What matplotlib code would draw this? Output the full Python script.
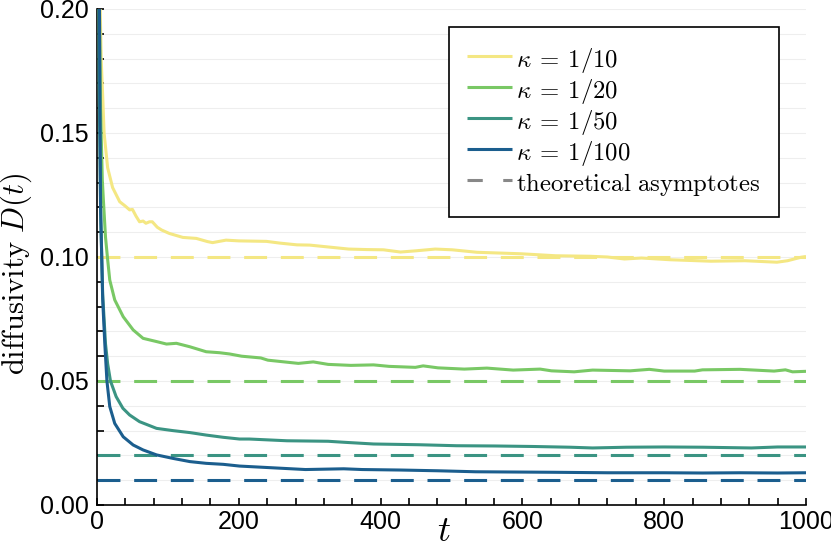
import matplotlib
matplotlib.use("Agg")
import matplotlib.pyplot as plt
from matplotlib.lines import Line2D
from matplotlib.ticker import MultipleLocator

plt.rcParams['mathtext.fontset'] = 'cm'
plt.rcParams['font.family'] = ['Liberation Sans', 'DejaVu Sans']

# ---- data ----
labels = [r'$\kappa\:=\:1/10$', r'$\kappa\:=\:1/20$', r'$\kappa\:=\:1/50$', r'$\kappa\:=\:1/100$']
colors = ['#f4e783', '#79c865', '#3b9483', '#1b5e8e']
asymptotes = [0.10, 0.05, 0.02, 0.01]

t_k10 = [1, 4.5, 6, 8, 10, 15, 22, 32, 40, 46, 50, 55, 60, 65, 69, 74, 78, 85, 91, 102, 121, 140,
         156, 163, 182, 200, 239, 258, 282, 300, 331, 355, 380, 404, 428, 450, 477, 501, 536, 598,
         647, 695, 720, 744, 768, 808, 866, 914, 959, 974, 993, 1000]
D_k10 = [0.40, 0.200, 0.179, 0.165, 0.150, 0.136, 0.128, 0.1223, 0.1205, 0.119, 0.1192, 0.1165,
         0.1142, 0.1145, 0.1136, 0.1142, 0.1142, 0.112, 0.1109, 0.1095, 0.1079, 0.1075, 0.1062,
         0.1058, 0.1068, 0.1065, 0.1063, 0.1056, 0.1049, 0.1048, 0.1039, 0.1032, 0.1030, 0.1029,
         0.1020, 0.1025, 0.1032, 0.1029, 0.1019, 0.1013, 0.1005, 0.1003, 0.1000, 0.0992, 0.0996,
         0.0989, 0.0983, 0.0985, 0.0979, 0.0985, 0.0999, 0.1002]

t_k20 = [1, 2.5, 5, 7.5, 9, 12, 15, 18, 25, 37, 51, 65, 84, 98, 112, 131, 154, 173, 187, 204,
         231, 241, 284, 305, 326, 358, 390, 412, 449, 460, 481, 518, 550, 587, 625, 641, 673, 699,
         752, 779, 800, 843, 854, 907, 955, 971, 981, 1000]
D_k20 = [0.40, 0.22, 0.16, 0.131, 0.123, 0.108, 0.099, 0.0907, 0.0827, 0.0759, 0.0706, 0.0672,
         0.0659, 0.0649, 0.0652, 0.0638, 0.0618, 0.0614, 0.0609, 0.0600, 0.0593, 0.0584, 0.0571,
         0.0577, 0.0567, 0.0563, 0.0565, 0.0559, 0.0555, 0.0561, 0.0553, 0.0548, 0.0552, 0.0544,
         0.0548, 0.0541, 0.0537, 0.0544, 0.0541, 0.0547, 0.0540, 0.0540, 0.0545, 0.0547, 0.0540,
         0.0545, 0.0537, 0.0539]

t_k50 = [1, 3, 5, 8, 12, 15, 19, 27, 36.5, 46, 60, 84, 107, 131, 154, 178, 201, 215, 268, 326,
         348, 390, 454, 507, 561, 614, 667, 699, 747, 800, 854, 923, 960, 1000]
D_k50 = [0.35, 0.17, 0.12, 0.085, 0.065, 0.057, 0.050, 0.0437, 0.0390, 0.0363, 0.0336, 0.0309,
         0.0300, 0.0292, 0.0282, 0.0273, 0.0266, 0.0266, 0.0259, 0.0257, 0.0253, 0.0246, 0.0243,
         0.0239, 0.0238, 0.0236, 0.0233, 0.0230, 0.0233, 0.0234, 0.0233, 0.0230, 0.0234, 0.0234]

t_k100 = [1, 3.5, 5, 8, 11, 14, 18, 25, 37, 51, 65, 84, 107, 131, 154, 178, 201, 241, 294, 348,
          374, 428, 481, 534, 587, 641, 720, 800, 854, 907, 960, 1000]
D_k100 = [0.30, 0.20, 0.12, 0.083, 0.065, 0.050, 0.0397, 0.0329, 0.0275, 0.0242, 0.0222, 0.0202,
          0.0188, 0.0175, 0.0168, 0.0164, 0.0157, 0.0151, 0.0143, 0.0146, 0.0143, 0.0141, 0.0138,
          0.0134, 0.0133, 0.0132, 0.0130, 0.0130, 0.0129, 0.0130, 0.0129, 0.0130]

series_t = [t_k10, t_k20, t_k50, t_k100]
series_D = [D_k10, D_k20, D_k50, D_k100]

x_ticks = [0, 200, 400, 600, 800, 1000]
y_ticks = [0.00, 0.05, 0.10, 0.15, 0.20]

# ---- figure ----
fig = plt.figure(figsize=(8.31, 5.46), dpi=100)
ax = fig.add_axes([97/831, 1 - 505/546, (806-97)/831, (505-9)/546])

lw = 2.2
for tt, DD, c, lab in zip(series_t, series_D, colors, labels):
    ax.plot(tt, DD, color=c, lw=lw, label=lab, zorder=3, solid_capstyle='butt')
for a, c in zip(asymptotes, colors):
    ax.axhline(a, color=c, lw=lw, dashes=(7.5, 4.5), zorder=2)

ax.set_xlim(0, 1000)
ax.set_ylim(0, 0.20)
ax.set_xticks(x_ticks)
ax.set_yticks(y_ticks)
ax.set_yticklabels([f'{v:.2f}' for v in y_ticks])
ax.xaxis.set_minor_locator(MultipleLocator(40))
ax.yaxis.set_minor_locator(MultipleLocator(0.01))
ax.tick_params(which='both', direction='in', length=5, width=1.2, color='black',
               labelsize=18)
ax.tick_params(axis='x', which='major', pad=3.8)
ax.tick_params(axis='y', which='major', pad=5.8)
ax.grid(True, which='both', axis='y', color='#eeeeee', lw=0.8, zorder=0)
ax.set_axisbelow(True)
for s in ['top', 'right']:
    ax.spines[s].set_visible(False)
for s in ['left', 'bottom']:
    ax.spines[s].set_linewidth(1.2)

ax.set_xlabel(r'$t$', fontsize=26)
ax.xaxis.set_label_coords(0.49, -0.019)
ax.set_ylabel(r'$\mathrm{diffusivity}\ D(t)$', fontsize=22, va='center')
ax.yaxis.set_label_coords(-0.114, 0.465)

handles, labs = ax.get_legend_handles_labels()
handles.append(Line2D([], [], color='#888888', lw=lw, dashes=(5, 6.7)))
labs.append(r'$\mathrm{theoretical\ asymptotes}$')
leg = ax.legend(handles, labs, loc='upper right',
                bbox_to_anchor=((779-97)/709, (505-27)/496),
                fontsize=17.8, frameon=True, fancybox=False, framealpha=1,
                edgecolor='black', handlelength=1.8, handletextpad=0.2,
                handleheight=1.3, labelspacing=0.05, borderpad=0.75, borderaxespad=0)
leg.get_frame().set_linewidth(1.2)

fig.savefig('out.png', dpi=100)
